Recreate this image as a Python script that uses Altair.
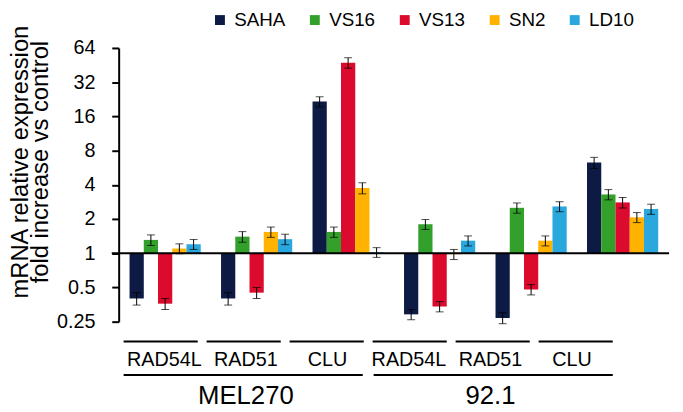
import altair as alt
import pandas as pd

# ---- data -------------------------------------------------------------
series = ["SAHA", "VS16", "VS13", "SN2", "LD10"]
colors = ["#0c1a44", "#33a02c", "#dc0a2d", "#ffb300", "#2aa7dd"]
cell_lines = ["MEL270", "92.1"]
genes = ["RAD54L", "RAD51", "CLU"]

# fold change per series (SAHA, VS16, VS13, SN2, LD10)
mel270_rad54l = [0.40, 1.31, 0.36, 1.10, 1.20]
mel270_rad51 = [0.40, 1.40, 0.45, 1.54, 1.33]
mel270_clu = [21.6, 1.54, 47.5, 3.75, 1.02]
mel92_rad54l = [0.29, 1.80, 0.34, 0.98, 1.29]
mel92_rad51 = [0.27, 2.51, 0.48, 1.29, 2.58]
mel92_clu = [6.28, 3.29, 2.80, 2.07, 2.45]

err_mel270_rad54l = [0.05, 0.14, 0.04, 0.11, 0.12]
err_mel270_rad51 = [0.05, 0.15, 0.05, 0.16, 0.14]
err_mel270_clu = [2.2, 0.16, 5.0, 0.42, 0.10]
err_mel92_rad54l = [0.03, 0.18, 0.035, 0.10, 0.13]
err_mel92_rad51 = [0.03, 0.26, 0.05, 0.13, 0.26]
err_mel92_clu = [0.70, 0.34, 0.30, 0.21, 0.25]

y_ticks = [0.25, 0.5, 1, 2, 4, 8, 16, 32, 64]
baseline_value = [1]

values = [mel270_rad54l, mel270_rad51, mel270_clu, mel92_rad54l, mel92_rad51, mel92_clu]
errors = [err_mel270_rad54l, err_mel270_rad51, err_mel270_clu,
          err_mel92_rad54l, err_mel92_rad51, err_mel92_clu]

keys = [f"{c}|{g}" for c in cell_lines for g in genes]
rows = []
for k, vals, errs in zip(keys, values, errors):
    for s, v, e in zip(series, vals, errs):
        rows.append({"key": k, "series": s, "value": v, "lo": v - e, "hi": v + e, "one": 1})
df = pd.DataFrame(rows)
caps_df = pd.concat([
    df.assign(cap=df["lo"]),
    df.assign(cap=df["hi"]),
])
base_df = pd.DataFrame({"one": baseline_value})
lab_df = pd.DataFrame({"key": keys, "gene": [g for c in cell_lines for g in genes]})
cell_df = pd.DataFrame({"cell": cell_lines})

FONT = "Liberation Sans"
W, H = 560, 277

yscale = alt.Scale(type="log", base=2, domain=[0.25, 64], nice=False, zero=False)
xscale = alt.Scale(domain=keys, range=[11, 546], paddingInner=0.222, paddingOuter=0)
xoff = alt.XOffset("series:N", sort=series,
                   scale=alt.Scale(domain=series, paddingInner=0, paddingOuter=0))

TITLE = ["mRNA relative expression", "fold increase vs control"]
yaxis = alt.Axis(
    values=y_ticks, format="~g", grid=False,
    domainColor="black", domainWidth=2, tickColor="black", tickWidth=2, tickSize=7,
    labelFont=FONT, labelFontSize=20, labelColor="black", labelPadding=17,
    titleFont=FONT, titleFontSize=24, titleFontWeight="normal", titleColor="black",
    titleLineHeight=20, titleAngle=-90, titleX=-92, titleY=115,
    titleBaseline="alphabetic", titleAlign="center",
)

bars = alt.Chart(df).mark_bar().encode(
    x=alt.X("key:N", sort=keys, scale=xscale, axis=None),
    xOffset=xoff,
    y=alt.Y("value:Q", scale=yscale, axis=yaxis, title=TITLE),
    y2="one:Q",
    color=alt.Color("series:N", sort=series,
                    scale=alt.Scale(domain=series, range=colors),
                    legend=alt.Legend(
                        title=None, orient="none", legendX=93, legendY=-38,
                        direction="horizontal", columns=5, columnPadding=20,
                        symbolType="square", symbolSize=100, symbolStrokeWidth=0,
                        labelFont=FONT, labelFontSize=19, labelColor="black",
                        labelOffset=5, padding=0)),
)

err_rule = alt.Chart(df).mark_rule(color="black", strokeWidth=1).encode(
    x=alt.X("key:N", sort=keys, scale=xscale, axis=None),
    xOffset=xoff,
    y=alt.Y("lo:Q", scale=yscale, axis=yaxis, title=TITLE),
    y2="hi:Q",
)

err_caps = alt.Chart(caps_df).mark_tick(color="black", thickness=1, size=8,
                                        orient="horizontal").encode(
    x=alt.X("key:N", sort=keys, scale=xscale, axis=None),
    xOffset=xoff,
    y=alt.Y("cap:Q", scale=yscale, axis=yaxis, title=TITLE),
)

baseline = alt.Chart(base_df).mark_rule(color="black", strokeWidth=2).encode(
    y=alt.Y("one:Q", scale=yscale, axis=yaxis, title=TITLE),
    x=alt.value(-7),
    x2=alt.value(557),
)

lab_scale = alt.Scale(domain=keys, range=[5, 500], paddingInner=0.107, paddingOuter=0)
gene_lines = alt.Chart(lab_df).mark_bar(color="black").encode(
    x=alt.X("key:N", sort=keys, scale=lab_scale, axis=None),
    y=alt.value(296), y2=alt.value(298),
)
gene_text = alt.Chart(lab_df).mark_text(font=FONT, fontSize=20, baseline="alphabetic",
                                        color="black").encode(
    x=alt.X("key:N", sort=keys, scale=lab_scale, axis=None),
    y=alt.value(322),
    text="gene:N",
)

cell_scale = alt.Scale(domain=cell_lines, range=[5, 500], paddingInner=0.0435, paddingOuter=0)
cell_lines_mark = alt.Chart(cell_df).mark_bar(color="black").encode(
    x=alt.X("cell:N", sort=cell_lines, scale=cell_scale, axis=None),
    y=alt.value(330), y2=alt.value(332),
)
cell_text = alt.Chart(cell_df).mark_text(font=FONT, fontSize=26, baseline="alphabetic",
                                         color="black").encode(
    x=alt.X("cell:N", sort=cell_lines, scale=cell_scale, axis=None),
    y=alt.value(360),
    text="cell:N",
)

chart = alt.layer(
    bars, err_rule, err_caps, baseline,
    gene_lines, gene_text, cell_lines_mark, cell_text,
).resolve_scale(x="independent").properties(
    width=W, height=H,
    autosize=alt.AutoSizeParams(type="none"),
    padding={"left": 112, "top": 38, "right": 3, "bottom": 92},
).configure_view(stroke=None)

chart.save("out.html", embed_options={"renderer": "svg", "actions": False})
